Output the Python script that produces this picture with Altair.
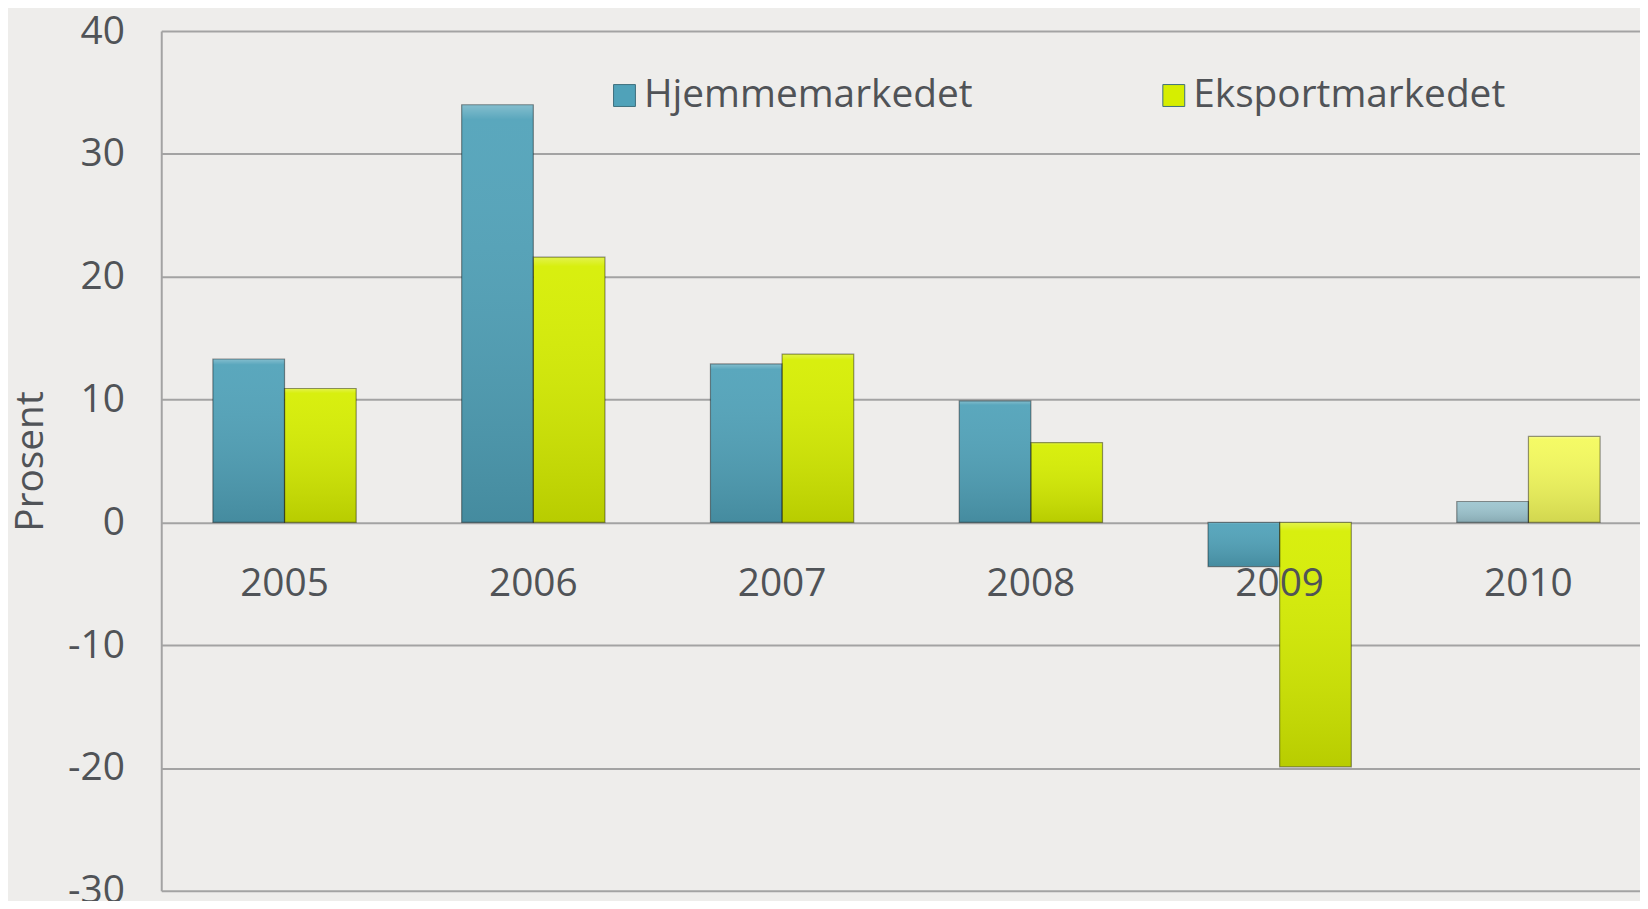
import altair as alt
import pandas as pd

years = ["2005", "2006", "2007", "2008", "2009", "2010"]
hjemme = [13.3, 34.0, 12.9, 9.9, -3.6, 1.7]
eksport = [10.9, 21.6, 13.7, 6.5, -19.9, 7.0]
forelopig = [False, False, False, False, False, True]
series = ["Hjemmemarkedet", "Eksportmarkedet"]
keys = ["Hjemmemarkedet", "Eksportmarkedet",
        "Hjemmemarkedet (foreløpig)", "Eksportmarkedet (foreløpig)"]
colors = ["#50a2b9", "#d6ee00", "#9dc5cf", "#f4fa5c"]
y_ticks = [-30, -20, -10, 0, 10, 20, 30, 40]

rows = []
for i, yr in enumerate(years):
    for s, vals in zip(series, [hjemme, eksport]):
        rows.append({
            "år": yr,
            "serie": s,
            "verdi": vals[i],
            "nøkkel": s + (" (foreløpig)" if forelopig[i] else ""),
        })
df = pd.DataFrame(rows)

font = "Open Sans"
txt = "#505357"
grid = "#a3a3a3"

x = alt.X(
    "år:N", sort=years, title=None,
    scale=alt.Scale(paddingInner=0.424, paddingOuter=0.184, align=0.564),
    axis=alt.Axis(labelAngle=0, domain=False, ticks=False, labelPadding=42,
                  offset=-370, labelFontSize=39, labelFont=font,
                  labelColor=txt, zindex=1, grid=False),
)
y = alt.Y(
    "verdi:Q",
    scale=alt.Scale(domain=[-30, 40], nice=False, zero=False),
    axis=alt.Axis(values=y_ticks, title="Prosent", titleX=-131, titleY=432,
                  titleAngle=270, titleAlign="center", titleBaseline="middle",
                  titleFont=font, titleFontSize=39, titleFontWeight="normal",
                  titleColor=txt, labelPadding=37, ticks=False, domain=True,
                  domainColor=grid, domainWidth=2, gridColor=grid, gridWidth=2,
                  labelFontSize=39, labelFont=font, labelColor=txt,
                  labelExpr="'' + datum.value"),
)
xo = alt.XOffset("serie:N", sort=series,
                 scale=alt.Scale(paddingInner=0, paddingOuter=0))

bars = alt.Chart(df).mark_bar().encode(
    x=x, y=y, xOffset=xo,
    color=alt.Color(
        "nøkkel:N",
        scale=alt.Scale(domain=keys, range=colors),
        legend=alt.Legend(values=series, title=None, orient="none",
                          legendX=446, legendY=45, direction="horizontal",
                          symbolType="square", symbolSize=484,
                          labelFontSize=39, labelFont=font, labelColor=txt,
                          labelOffset=0, labelLimit=1000, columnPadding=182,
                          padding=0, symbolStrokeWidth=1,
                          symbolStrokeColor="#3d6f7d", symbolOpacity=1),
    ),
)

shade = alt.Chart(df).mark_bar(
    color={
        "gradient": "linear", "x1": 0, "y1": 0, "x2": 0, "y2": 1,
        "stops": [
            {"offset": 0, "color": "rgba(255,255,255,0.30)"},
            {"offset": 0.035, "color": "rgba(255,255,255,0.06)"},
            {"offset": 1, "color": "rgba(0,0,0,0.14)"},
        ],
    },
    stroke="rgba(0,0,0,0.40)", strokeWidth=1.2,
).encode(x=x, y=y, xOffset=xo)

chart = alt.layer(bars, shade).properties(
    width=1486, height=864,
    autosize=alt.AutoSizeParams(type="none"),
    padding={"left": 154, "top": 21, "right": 0, "bottom": 8},
    background="#eeedeb",
).configure_view(strokeWidth=0)

chart.save("out.html", embed_options={"renderer": "svg", "actions": False})
